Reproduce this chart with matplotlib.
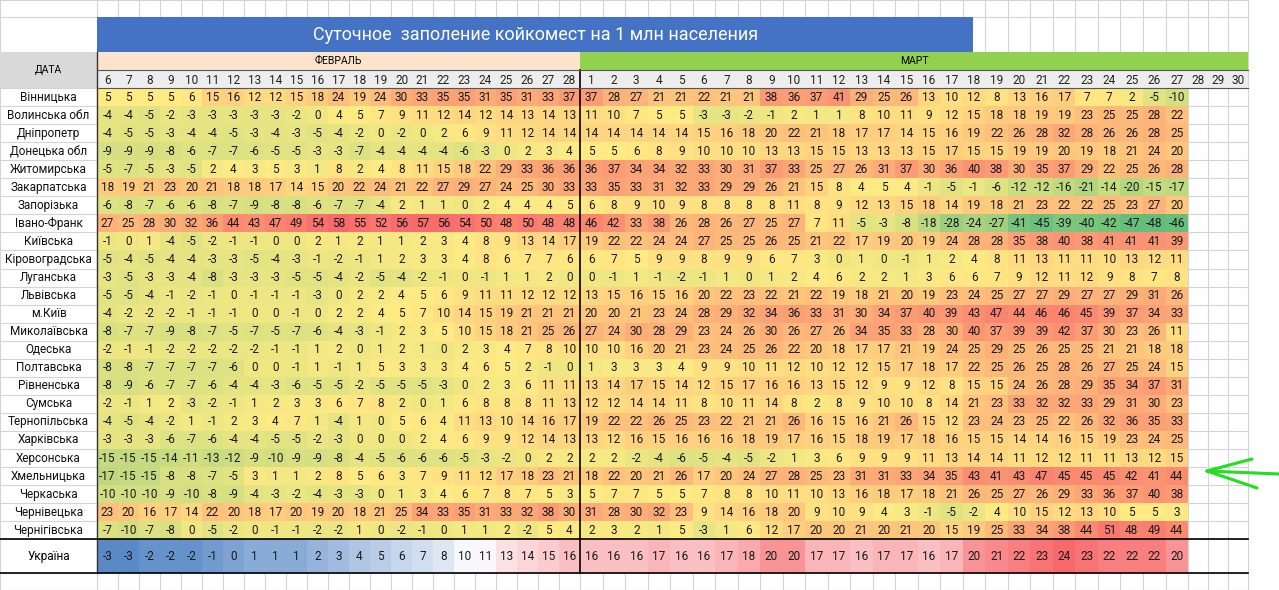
import matplotlib.pyplot as plt
import numpy as np
from matplotlib.colors import LinearSegmentedColormap, Normalize
from matplotlib.patches import Rectangle

plt.rcParams['font.family'] = ['Roboto', 'DejaVu Sans']

TITLE = "Суточное  заполение койкомест на 1 млн населения"

regions = ["Вінницька", "Волинська обл", "Дніпропетр", "Донецька обл", "Житомирська",
           "Закарпатська", "Запорізька", "Івано-Франк", "Київська", "Кіровоградська",
           "Луганська", "Львівська", "м.Київ", "Миколаївська", "Одеська", "Полтавська",
           "Рівненська", "Сумська", "Тернопільська", "Харківська", "Херсонська",
           "Хмельницька", "Черкаська", "Чернівецька", "Чернігівська"]

feb_days = list(range(6, 29))
mar_days = list(range(1, 28))
empty_days = [28, 29, 30]

# February 6..28
feb = [
    [5, 5, 5, 5, 6, 15, 16, 12, 12, 15, 18, 24, 19, 24, 30, 33, 35, 35, 31, 35, 31, 33, 37],
    [-4, -4, -5, -2, -3, -3, -3, -3, -3, -2, 0, 4, 5, 7, 9, 11, 12, 14, 12, 14, 13, 14, 13],
    [-4, -5, -5, -3, -4, -4, -5, -3, -4, -3, -5, -4, -2, 0, -2, 0, 2, 6, 9, 11, 12, 14, 14],
    [-9, -9, -9, -8, -6, -7, -7, -6, -5, -5, -3, -3, -7, -4, -4, -4, -4, -6, -3, 0, 2, 3, 4],
    [-5, -7, -5, -3, -5, 2, 4, 3, 5, 3, 1, 8, 2, 4, 8, 11, 15, 18, 22, 29, 33, 36, 36],
    [18, 19, 21, 23, 20, 21, 18, 18, 17, 14, 15, 20, 22, 24, 21, 22, 27, 29, 27, 24, 25, 30, 33],
    [-6, -8, -7, -6, -6, -8, -7, -9, -8, -8, -6, -7, -7, -4, 2, 1, 1, 0, 2, 4, 4, 4, 5],
    [27, 25, 28, 30, 32, 36, 44, 43, 47, 49, 54, 58, 55, 52, 56, 57, 56, 54, 50, 48, 50, 48, 48],
    [-1, 0, 1, -4, -5, -2, -1, -1, 0, 0, 2, 1, 2, 1, 1, 2, 3, 4, 8, 9, 13, 14, 17],
    [-5, -4, -5, -4, -4, -3, -3, -5, -4, -3, -1, -2, -1, 1, 2, 3, 3, 4, 8, 6, 7, 7, 6],
    [-3, -5, -3, -3, -4, -8, -3, -3, -3, -5, -5, -4, -2, -5, -4, -2, -1, 0, -1, 1, 1, 2, 0],
    [-5, -5, -4, -1, -2, -1, 0, -1, -1, -1, -3, 0, 2, 2, 4, 5, 6, 9, 11, 11, 12, 12, 12],
    [-4, -2, -2, -2, -1, -1, -1, 0, 0, -1, 0, 2, 2, 4, 5, 7, 10, 14, 15, 19, 21, 21, 21],
    [-8, -7, -7, -9, -8, -7, -5, -7, -5, -7, -6, -4, -3, -1, 2, 3, 5, 10, 15, 18, 21, 25, 26],
    [-2, -1, -1, -2, -2, -2, -2, -2, -1, -1, 1, 2, 0, 1, 2, 1, 0, 2, 3, 4, 7, 8, 10],
    [-8, -8, -7, -7, -7, -7, -6, 0, 0, -1, 1, -1, 1, 5, 3, 3, 3, 4, 6, 5, 2, -1, 0],
    [-8, -9, -6, -7, -7, -6, -4, -4, -3, -6, -5, -5, -2, -5, -5, -5, -3, 0, 2, 3, 6, 11, 11],
    [-2, -1, 1, 2, -3, -2, -1, 1, 2, 3, 3, 6, 7, 8, 2, 0, 1, 6, 8, 8, 8, 11, 13],
    [-4, -5, -4, -2, 1, -1, 2, 3, 4, 7, 1, -4, 1, 0, 5, 6, 4, 11, 13, 10, 14, 16, 17],
    [-3, -3, -3, -6, -7, -6, -4, -4, -5, -5, -2, -3, 0, 0, 0, 2, 4, 6, 9, 9, 12, 14, 13],
    [-15, -15, -15, -14, -11, -13, -12, -9, -10, -9, -9, -8, -4, -5, -6, -6, -6, -5, -3, -2, 0, 2, 2],
    [-17, -15, -15, -8, -8, -7, -5, 3, 1, 1, 2, 8, 5, 6, 3, 7, 9, 11, 12, 17, 18, 23, 21],
    [-10, -10, -10, -9, -10, -8, -9, -4, -3, -2, -4, -3, -3, 0, 1, 3, 4, 6, 7, 8, 7, 5, 3],
    [23, 20, 16, 17, 14, 22, 20, 18, 17, 20, 19, 20, 18, 21, 25, 34, 33, 35, 31, 33, 32, 38, 30],
    [-7, -10, -7, -8, 0, -5, -2, 0, -1, -1, -2, -2, 1, 0, -2, -1, 0, 1, 1, 2, -2, 5, 4],
]

# March 1..27
mar = [
    [37, 28, 27, 21, 21, 22, 21, 21, 38, 36, 37, 41, 29, 25, 26, 13, 10, 12, 8, 13, 16, 17, 7, 7, 2, -5, -10],
    [11, 10, 7, 5, 5, -3, -3, -2, -1, 2, 1, 1, 8, 10, 11, 9, 12, 15, 18, 18, 19, 19, 23, 25, 25, 28, 22],
    [14, 14, 14, 14, 14, 15, 16, 18, 20, 22, 21, 18, 17, 17, 14, 15, 16, 19, 22, 26, 28, 32, 28, 26, 26, 28, 25],
    [5, 5, 6, 8, 9, 10, 10, 10, 13, 13, 15, 15, 13, 13, 13, 15, 17, 15, 15, 19, 19, 20, 19, 18, 21, 24, 20],
    [36, 37, 34, 34, 32, 33, 30, 31, 37, 33, 25, 27, 26, 31, 37, 30, 36, 40, 38, 30, 35, 37, 29, 22, 25, 26, 28],
    [33, 35, 33, 31, 32, 33, 29, 29, 26, 21, 15, 8, 4, 5, 4, -1, -5, -1, -6, -12, -12, -16, -21, -14, -20, -15, -17],
    [6, 8, 9, 10, 9, 8, 8, 8, 8, 11, 8, 9, 12, 13, 15, 18, 14, 19, 18, 21, 23, 22, 22, 25, 23, 27, 20],
    [46, 42, 33, 38, 26, 28, 26, 27, 25, 27, 7, 11, -5, -3, -8, -18, -28, -24, -27, -41, -45, -39, -40, -42, -47, -48, -46],
    [19, 22, 22, 24, 24, 27, 25, 25, 26, 25, 21, 22, 17, 19, 20, 19, 24, 28, 28, 35, 38, 40, 38, 41, 41, 41, 39],
    [6, 7, 5, 9, 9, 8, 9, 9, 6, 7, 3, 0, 1, 0, -1, 1, 2, 4, 8, 11, 13, 11, 11, 10, 13, 12, 11],
    [0, -1, 1, -1, -2, -1, 1, 0, 1, 2, 4, 6, 2, 2, 1, 3, 6, 6, 7, 9, 12, 11, 12, 9, 8, 7, 8],
    [13, 15, 16, 15, 16, 20, 22, 23, 22, 21, 22, 19, 18, 21, 20, 19, 23, 24, 25, 27, 27, 29, 27, 27, 29, 31, 26],
    [20, 20, 21, 23, 24, 28, 29, 32, 34, 36, 33, 31, 30, 34, 37, 40, 39, 43, 47, 44, 46, 46, 45, 39, 37, 34, 33],
    [27, 24, 30, 28, 29, 23, 24, 26, 30, 26, 27, 26, 34, 35, 33, 28, 30, 40, 37, 39, 39, 42, 37, 30, 23, 26, 11],
    [10, 10, 16, 20, 21, 23, 24, 25, 26, 22, 20, 18, 17, 17, 21, 19, 24, 25, 29, 25, 26, 25, 25, 21, 21, 18, 18],
    [1, 3, 3, 3, 4, 9, 9, 10, 11, 12, 10, 12, 12, 15, 17, 18, 17, 22, 25, 26, 25, 28, 26, 27, 25, 24, 15],
    [13, 14, 17, 15, 14, 12, 15, 17, 16, 16, 13, 15, 12, 9, 9, 12, 8, 15, 15, 24, 26, 28, 29, 35, 34, 37, 31],
    [12, 12, 14, 14, 11, 8, 10, 11, 14, 8, 2, 8, 9, 10, 10, 8, 14, 21, 23, 33, 32, 32, 33, 29, 31, 30, 23],
    [19, 22, 22, 26, 25, 23, 22, 21, 21, 26, 16, 15, 16, 21, 26, 15, 12, 23, 24, 23, 25, 22, 26, 32, 36, 35, 33],
    [13, 12, 16, 15, 16, 16, 16, 18, 19, 17, 16, 15, 18, 19, 17, 18, 16, 15, 15, 14, 14, 16, 15, 19, 23, 24, 25],
    [2, 2, -2, -4, -6, -5, -4, -5, -2, 1, 3, 6, 9, 9, 9, 11, 13, 14, 14, 11, 12, 12, 11, 11, 13, 12, 15],
    [18, 22, 20, 21, 26, 17, 20, 24, 27, 28, 25, 23, 31, 31, 33, 34, 35, 43, 41, 43, 47, 45, 45, 45, 42, 41, 44],
    [5, 7, 7, 5, 5, 7, 8, 8, 10, 11, 10, 13, 16, 18, 17, 18, 21, 26, 25, 27, 26, 29, 33, 36, 37, 40, 38],
    [31, 28, 30, 32, 23, 9, 14, 16, 18, 20, 9, 10, 9, 4, 3, -1, -5, -2, 4, 10, 15, 12, 13, 10, 5, 5, 3],
    [2, 3, 2, 1, 5, -3, 1, 6, 12, 17, 20, 20, 21, 20, 21, 20, 15, 19, 25, 33, 34, 38, 44, 51, 48, 49, 44],
]

ukraine_feb = [-3, -3, -2, -2, -2, -1, 0, 1, 1, 1, 2, 3, 4, 5, 6, 7, 8, 10, 11, 13, 14, 15, 16]
ukraine_mar = [16, 16, 16, 17, 16, 16, 17, 18, 20, 20, 17, 17, 16, 17, 17, 16, 17, 20, 21, 22, 23, 24, 23, 22, 22, 22, 20]

# layout (pixels)
W, H = 1279, 590
LABEL_W = 97
MID_X = 580
ROW_TOP = 88
ROW_H = 18.05
feb_edges = LABEL_W + 21.0 * np.arange(len(feb_days) + 1)
mar_edges = MID_X + 22.52 * np.arange(len(mar_days) + 1)
empty_edges = mar_edges[-1] + 20.0 * np.arange(1, len(empty_days) + 1)
x_edges = np.concatenate([feb_edges, mar_edges[1:]])
all_edges = np.concatenate([[0], x_edges, empty_edges])
RIGHT = all_edges[-1]
y_edges = ROW_TOP + ROW_H * np.arange(len(regions) + 1)
UA_TOP, UA_BOT = y_edges[-1], y_edges[-1] + 34
x_mid = (all_edges[1:-1 - 0][:-0 or None] if False else None)

data = np.hstack([np.array(feb), np.array(mar)])
ua = np.array(ukraine_feb + ukraine_mar)[None, :]

fig = plt.figure(figsize=(W / 100, H / 100), dpi=100)
ax = fig.add_axes([0, 0, 1, 1])
ax.set_xlim(0, W)
ax.set_ylim(H, 0)
ax.axis('off')

# excel gridlines
grid_c = '#D4D4D4'
h_lines = [0, 17, 52, 70] + list(y_edges) + [UA_BOT, H]
for y in h_lines:
    ax.plot([0, RIGHT], [y, y], color=grid_c, lw=0.8, zorder=0)
for x in all_edges:
    ax.plot([x, x], [0, H], color=grid_c, lw=0.8, zorder=0)

# title
ax.add_patch(Rectangle((LABEL_W, 17), 876, 35, fc='#4472C4', ec='none', zorder=1))
ax.text(536, 35, TITLE, color='white', fontsize=13, ha='center', va='center', zorder=3)

# header
ax.add_patch(Rectangle((0, 52), LABEL_W, 36, fc='#D9D9D9', ec='none', zorder=1))
ax.text(LABEL_W / 2, 70, "ДАТА", fontsize=7.5, ha='center', va='center', zorder=3)
ax.add_patch(Rectangle((LABEL_W, 52), MID_X - LABEL_W, 18, fc='#FCE4CC', ec='none', zorder=1))
ax.add_patch(Rectangle((MID_X, 52), RIGHT - MID_X, 18, fc='#92D050', ec='none', zorder=1))
ax.text((LABEL_W + MID_X) / 2, 61, "ФЕВРАЛЬ", fontsize=7.5, ha='center', va='center', zorder=3)
ax.text((MID_X + RIGHT) / 2, 61, "МАРТ", fontsize=7.5, ha='center', va='center', zorder=3)
ax.add_patch(Rectangle((LABEL_W, 70), RIGHT - LABEL_W, 18, fc='#EDEDED', ec='none', zorder=1))

day_labels = feb_days + mar_days + empty_days
day_edges = np.concatenate([x_edges, empty_edges])
day_centers = (day_edges[:-1] + day_edges[1:]) / 2
for xc, d in zip(day_centers, day_labels):
    ax.text(xc, 80, str(d), fontsize=8.5, ha='center', va='center', color='#222222', zorder=3)

# heat cells
reg_cmap = LinearSegmentedColormap.from_list('gyr', ['#63BE7B', '#FFEB84', '#F8696B'])
ua_cmap = LinearSegmentedColormap.from_list('bwr', ['#5A8AC6', '#FCFCFF', '#F8696B'])
ax.pcolormesh(x_edges, y_edges, data, cmap=reg_cmap,
              norm=Normalize(data.min(), data.max()), shading='flat',
              antialiased=False, zorder=1)
ax.pcolormesh(x_edges, [UA_TOP, UA_BOT], ua, cmap=ua_cmap,
              norm=Normalize(ua.min(), ua.max()), shading='flat',
              antialiased=False, zorder=1)

x_centers = (x_edges[:-1] + x_edges[1:]) / 2
y_centers = (y_edges[:-1] + y_edges[1:]) / 2
for i, name in enumerate(regions):
    ax.text(LABEL_W / 2, y_centers[i], name, fontsize=8.5, ha='center', va='center',
            color='#111111', zorder=3)
    for j, v in enumerate(data[i]):
        ax.text(x_centers[j], y_centers[i], str(v), fontsize=8.5, ha='center',
                va='center', color='#1A1A1A', zorder=3)
ua_y = (UA_TOP + UA_BOT) / 2
ax.text(LABEL_W / 2, ua_y, "Україна", fontsize=8.5, ha='center', va='center', zorder=3)
for j, v in enumerate(ua[0]):
    ax.text(x_centers[j], ua_y, str(v), fontsize=8.5, ha='center', va='center',
            color='#1A1A1A', zorder=3)

# borders
ax.plot([LABEL_W, LABEL_W], [52, UA_BOT], color='#333333', lw=1.0, zorder=2)
ax.plot([MID_X, MID_X], [70, UA_BOT], color='black', lw=1.2, zorder=2)
ax.plot([LABEL_W, RIGHT], [70, 70], color='#555555', lw=0.8, zorder=2)
ax.plot([LABEL_W, RIGHT], [88, 88], color='#555555', lw=0.8, zorder=2)
ax.plot([0, RIGHT], [UA_TOP, UA_TOP], color='black', lw=1.2, zorder=2)
ax.plot([0, RIGHT], [UA_BOT, UA_BOT], color='black', lw=1.2, zorder=2)

# hand drawn arrow
arrow_c = '#22DD22'
ax.plot([1279, 1207], [474, 471], color=arrow_c, lw=2.2, solid_capstyle='round', zorder=4)
ax.plot([1252, 1207], [459, 471], color=arrow_c, lw=2.2, solid_capstyle='round', zorder=4)
ax.plot([1207, 1257], [471, 488], color=arrow_c, lw=2.2, solid_capstyle='round', zorder=4)

fig.savefig('out.png', dpi=100)
